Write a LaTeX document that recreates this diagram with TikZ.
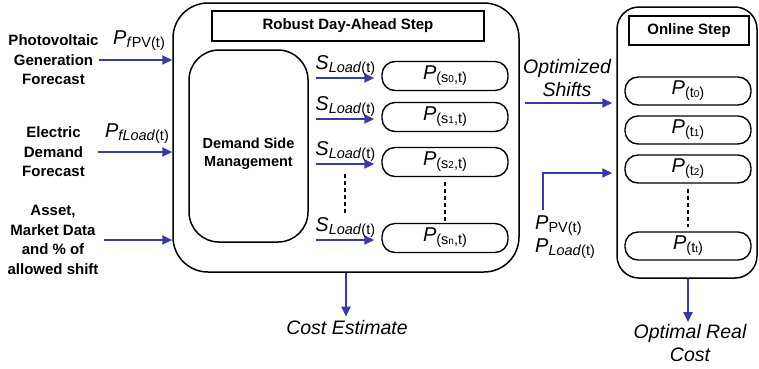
\documentclass[tikz,border=0pt]{standalone}
\usepackage{fontspec}
\setmainfont{Liberation Sans}
\usetikzlibrary{arrows.meta,positioning}

\definecolor{flowblue}{RGB}{58,58,165}

\newcommand{\bigP}[1]{{\fontsize{20}{20}\selectfont\itshape #1}}
\newcommand{\sublbl}[1]{\raisebox{-3pt}{\fontsize{14.5}{14.5}\selectfont #1}}
\newcommand{\idx}[1]{{\fontsize{10}{10}\selectfont #1}}

\tikzset{
  frame/.style={draw, line width=1.5pt, rounded corners=35pt},
  titlebox/.style={draw, line width=1.5pt, font=\bfseries\fontsize{15}{15}\selectfont},
  pbox/.style={draw, line width=1.4pt, rounded corners=13pt,
    minimum width=126pt, minimum height=29pt, inner sep=0pt},
  flow/.style={flowblue, line width=2pt, -{Triangle[length=10pt,width=9pt]}},
  inlabel/.style={font=\bfseries\fontsize{15}{19.5}\selectfont, align=center, inner sep=0pt},
  outlabel/.style={font=\itshape\fontsize{19.5}{23}\selectfont, align=center, inner sep=0pt},
  dots/.style={line width=1.8pt, dash pattern=on 4pt off 3pt},
}

\begin{document}
\begin{tikzpicture}[x=1pt,y=-1pt]
  \useasboundingbox (0,0) rectangle (759,368);

  % Day-ahead block
  \node[frame, minimum width=346pt, minimum height=269pt] (dayahead) at (346,137.5) {};
  \node[titlebox, minimum width=272pt, minimum height=30pt] (datitle) at (348,26) {Robust Day-Ahead Step};
  \node[draw, line width=1.5pt, rounded corners=30pt, minimum width=119pt, minimum height=192pt] (dsm) at (248.5,146) {};
  \node[inlabel, font=\bfseries\fontsize{14.5}{18}\selectfont] (dsmtext) at ([yshift=-8pt]dsm.center) {Demand Side\\Management};

  % Scenario boxes
  \foreach \n/\y in {0/76, 1/117, 2/162, n/238}{
    \node[pbox] (ps\n) at (445,\y) {\bigP{P}\sublbl{(s\idx{\n},t)}};
    \draw[flow] ([xshift=-65pt,yshift=-2pt]ps\n.west) --
      node[above=2pt, inner sep=0pt, text=black] (ls\n) {\bigP{S}\sublbl{\textit{Load}(t)}}
      ([xshift=-7pt,yshift=-2pt]ps\n.west);
  }
  \draw[dots] ([yshift=-12pt]ls2.south) -- ([yshift=3pt]lsn.north);
  \draw[dots] ([yshift=-5pt]ps2.south) -- ([yshift=1pt]psn.north);

  % Inputs
  \node[inlabel] (pv) at (53.5,60) {Photovoltaic\\Generation\\Forecast};
  \node[inlabel] (demand) at (53.5,152) {Electric\\Demand\\Forecast};
  \node[inlabel] (asset) at (53,240) {Asset,\\Market Data\\and \% of\\allowed shift};
  \draw[flow] (pv.east) -- (pv.east -| dayahead.west);
  \draw[flow] ([xshift=13pt]demand.east) -- (demand.east -| dayahead.west);
  \draw[flow] ([xshift=5pt]asset.east) -- (asset.east -| dayahead.west);
  \node (lpv) at (139,41) {\bigP{P}\sublbl{\textit{f}PV(t)}};
  \node (lload) at (137,134) {\bigP{P}\sublbl{\textit{fLoad}(t)}};

  % Cost estimate
  \node[outlabel] (cost) at (347,328) {Cost Estimate};
  \draw[flow] (dayahead.south) -- ([yshift=4pt]cost.north -| dayahead.south);

  % Online block
  \node[frame, rounded corners=22pt, minimum width=140pt, minimum height=271pt] (online) at (687,142.5) {};
  \node[titlebox, minimum width=120pt, minimum height=29pt] (ontitle) at (689,30.5) {Online Step};
  \foreach \n/\y in {0/91, 1/130, 2/169, t/246}{
    \node[pbox, minimum height=28pt] (pt\n) at (688,\y) {\bigP{P}\sublbl{(t\idx{\n})}};
  }
  \draw[dots] ([yshift=-5pt]pt2.south) -- ([yshift=4pt]ptt.north);

  % Shifts and measurements
  \coordinate (os) at (525,103);
  \node[outlabel] (shifts) at (567,78) {Optimized\\Shifts};
  \draw[flow] (os) -- ([xshift=-4pt]os -| online.west);
  \node[align=left, anchor=north west, inner sep=0pt] (meas) at (535,216)
    {\bigP{P}\sublbl{PV(t)}\\[2pt]\bigP{P}\sublbl{\textit{Load}(t)}};
  \coordinate (pm) at (543,210);
  \draw[flow] (pm) |- ([shift={(-4pt,-4pt)}]online.west |- pt2.center);

  % Real cost
  \node[outlabel] (real) at (690,343) {Optimal Real\\Cost};
  \draw[flow] (online.south -| pt2.south) -- ([yshift=2pt]real.north -| pt2.south);
\end{tikzpicture}
\end{document}
